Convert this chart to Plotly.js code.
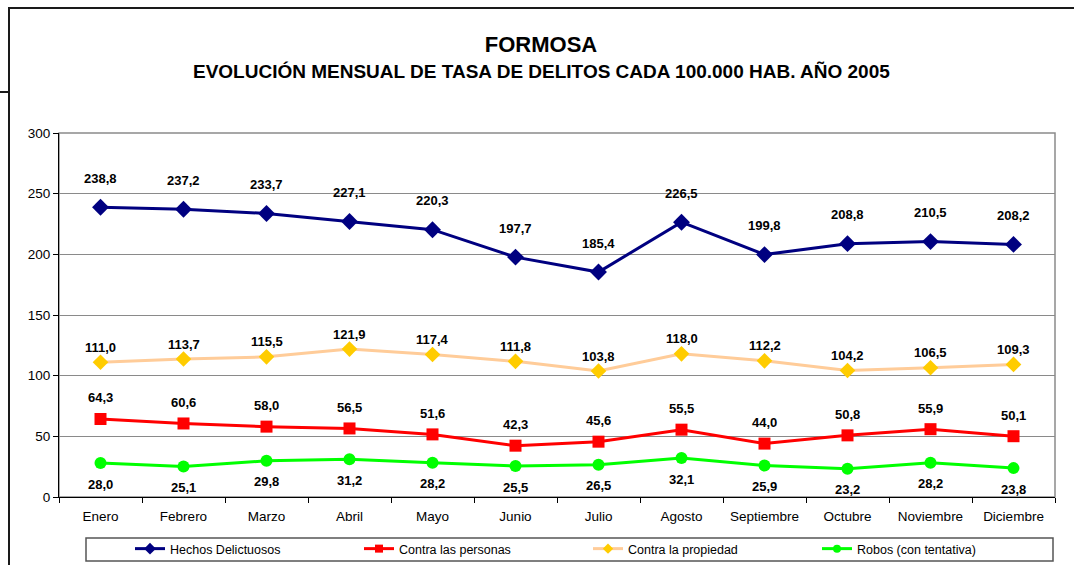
<!DOCTYPE html>
<html>
<head>
<meta charset="utf-8">
<script src="https://cdn.plot.ly/plotly-3.0.1.min.js"></script>
<style>
  html, body { margin:0; padding:0; background:#fff; }
  #wrap { position:relative; width:1074px; height:565px; overflow:hidden; }
  #chart { position:absolute; left:0; top:0; width:1074px; height:565px; }
  .ln { position:absolute; background:#1a1a1a; pointer-events:none; }
</style>
</head>
<body>
<div id="wrap">
  <div id="chart"></div>
  <div class="ln" style="left:8px; top:7px; width:1066px; height:2px;"></div>
  <div class="ln" style="left:8px; top:7px; width:2px; height:558px;"></div>
  <div class="ln" style="left:0px; top:91px; width:9px; height:2px;"></div>
</div>
<script>
const months = ["Enero","Febrero","Marzo","Abril","Mayo","Junio","Julio","Agosto","Septiembre","Octubre","Noviembre","Diciembre"];
const hechos = [238.8,237.2,233.7,227.1,220.3,197.7,185.4,226.5,199.8,208.8,210.5,208.2];
const personas = [64.3,60.6,58.0,56.5,51.6,42.3,45.6,55.5,44.0,50.8,55.9,50.1];
const propiedad = [111.0,113.7,115.5,121.9,117.4,111.8,103.8,118.0,112.2,104.2,106.5,109.3];
const robos = [28.0,25.1,29.8,31.2,28.2,25.5,26.5,32.1,25.9,23.2,28.2,23.8];
const seriesNames = ["Hechos Delictuosos","Contra las personas","Contra la propiedad","Robos (con tentativa)"];
const yTicks = [0,50,100,150,200,250,300];

const FONT = "Liberation Sans, Arial, sans-serif";
const fmt = v => v.toFixed(1).replace('.', ',');

const styles = [
  {line: {color: '#000080', width: 3}, sym: 'diamond', size: 13, mcolor: '#000080', lsize: 9},
  {line: {color: '#FF0000', width: 3}, sym: 'square', size: 12, mcolor: '#FF0000', lsize: 8},
  {line: {color: '#FFCC99', width: 3}, sym: 'diamond', size: 12, mcolor: '#FFCC00', lsize: 8},
  {line: {color: '#00FF00', width: 3}, sym: 'circle', size: 12, mcolor: '#00FF00', lsize: 8}
];
const dataSets = [hechos, personas, propiedad, robos];

const traces = [];
dataSets.forEach((vals, k) => {
  const st = styles[k];
  traces.push({x: months, y: vals, name: seriesNames[k], mode: 'lines+markers', showlegend: false,
    line: st.line, marker: {symbol: st.sym, size: st.size, color: st.mcolor}});
});
// legend entries (smaller symbols, as in the original legend)
dataSets.forEach((vals, k) => {
  const st = styles[k];
  traces.push({x: [months[0]], y: [null], name: seriesNames[k], mode: 'lines+markers', showlegend: true,
    line: st.line, marker: {symbol: st.sym, size: st.lsize, color: st.mcolor}});
});

const labelSets = [
  {vals: hechos, shift: 29},
  {vals: personas, shift: 21},
  {vals: propiedad, shift: 15},
  {vals: robos, shift: -21}
];
const annotations = [];
labelSets.forEach(s => {
  s.vals.forEach((v, i) => {
    annotations.push({x: months[i], y: v, xref: 'x', yref: 'y', text: '<b>' + fmt(v) + '</b>',
      showarrow: false, yshift: s.shift,
      font: {family: FONT, size: 13, color: '#000'}});
  });
});
annotations.push({xref: 'paper', yref: 'paper', x: 0.484, y: (497-72)/364, xanchor: 'center', yanchor: 'middle',
  text: '<b>EVOLUCIÓN MENSUAL DE TASA DE DELITOS CADA 100.000 HAB. AÑO 2005</b>', showarrow: false,
  font: {family: FONT, size: 19, color: '#000'}});

const layout = {
  width: 1074, height: 565,
  margin: {l: 59, r: 19, t: 133, b: 68},
  paper_bgcolor: 'rgba(0,0,0,0)',
  plot_bgcolor: '#fff',
  showlegend: true,
  title: {text: '<b>FORMOSA</b>', x: 541/1074, xref: 'container', y: 1 - 44/565, yref: 'container',
          xanchor: 'center', yanchor: 'middle', font: {family: FONT, size: 22, color: '#000'}},
  font: {family: FONT, color: '#000'},
  xaxis: {type: 'category', range: [-0.5, 11.5], autorange: false, showline: true, linecolor: '#000', linewidth: 1,
          ticks: 'outside', tickson: 'boundaries', ticklen: 5, tickcolor: '#000', ticklabelstandoff: 7,
          showgrid: false, tickfont: {family: FONT, size: 13.5, color: '#000'}, fixedrange: true},
  yaxis: {range: [0, 300], autorange: false, tickvals: yTicks, showline: true, linecolor: '#000', linewidth: 1,
          ticks: 'outside', ticklen: 5, tickcolor: '#000', showgrid: true, gridcolor: '#8a8a8a', gridwidth: 1,
          zeroline: false, tickfont: {family: FONT, size: 13.5, color: '#000'}, fixedrange: true},
  legend: {orientation: 'h', xref: 'container', yref: 'container', x: 130/1074, y: 1 - 549/565,
           xanchor: 'left', yanchor: 'middle',
           bgcolor: 'rgba(0,0,0,0)', borderwidth: 0, entrywidth: 184, entrywidthmode: 'pixels',
           font: {family: FONT, size: 12.5, color: '#000'}, itemwidth: 30},
  shapes: [
    {type: 'rect', xref: 'paper', yref: 'paper', x0: 0, x1: 1, y0: 0, y1: 1,
     line: {color: '#8a8a8a', width: 1.5}, layer: 'below'},
    {type: 'rect', xref: 'paper', yref: 'paper', x0: (86-59)/996, x1: (1053-59)/996,
     y0: (497-538)/364, y1: (497-561)/364, line: {color: '#555', width: 1.5}, fillcolor: 'rgba(0,0,0,0)'}
  ],
  annotations: annotations
};

Plotly.newPlot('chart', traces, layout, {displayModeBar: false, staticPlot: true});
</script>
</body>
</html>
